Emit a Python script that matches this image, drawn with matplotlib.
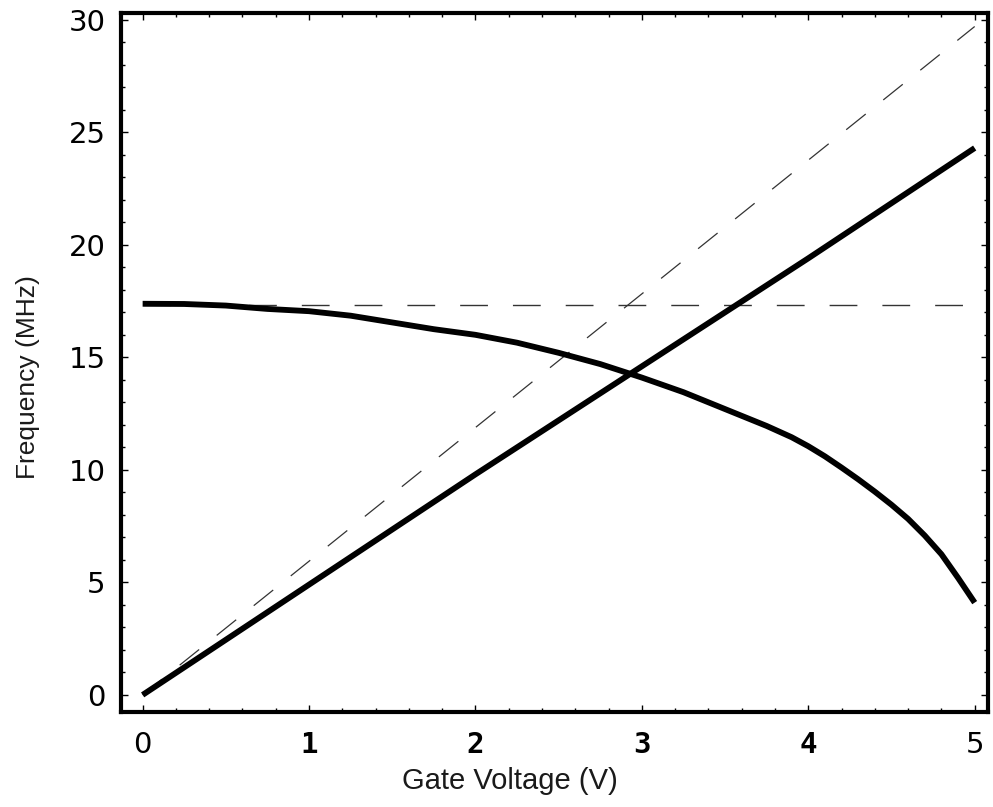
import matplotlib
matplotlib.use("Agg")
import matplotlib.pyplot as plt
from matplotlib.ticker import MultipleLocator

# Data
rise_x = [0, 1, 2, 3, 4, 5]
rise_y = [0.0, 4.9, 9.8, 14.6, 19.4, 24.3]

fall_x = [0, 0.25, 0.5, 0.75, 1, 1.25, 1.5, 1.75, 2, 2.25, 2.5, 2.75, 3, 3.25,
          3.5, 3.75, 3.9, 4, 4.1, 4.2, 4.3, 4.4, 4.5, 4.6, 4.7, 4.8, 4.9, 5]
fall_y = [17.38, 17.37, 17.3, 17.15, 17.05, 16.85, 16.55, 16.25, 16.0, 15.65,
          15.2, 14.7, 14.1, 13.45, 12.7, 11.95, 11.45, 11.05, 10.6, 10.1, 9.58,
          9.03, 8.45, 7.82, 7.08, 6.25, 5.2, 4.1]

diag_x = [0, 5]
diag_y = [0, 29.7]

flat_x = [0, 5]
flat_y = [17.33, 17.33]

xticks = [0, 1, 2, 3, 4, 5]
yticks = [0, 5, 10, 15, 20, 25, 30]

fig = plt.figure(figsize=(9.93, 8.07), dpi=100)
ax = fig.add_axes([121/993, 1-712/807, (988-121)/993, (712-13)/807])

ax.plot(flat_x, flat_y, color="#333333", lw=1.0, dashes=(20, 18))
ax.plot(diag_x, diag_y, color="#333333", lw=0.9, dashes=(20, 18))
ax.plot(rise_x, rise_y, color="black", lw=4.2, solid_capstyle="butt")
ax.plot(fall_x, fall_y, color="black", lw=4.2, solid_capstyle="butt",
        solid_joinstyle="round")

ax.set_xlim(-0.13, 5.08)
ax.set_ylim(-0.76, 30.3)
ax.set_xticks(xticks)
ax.set_yticks(yticks)
ax.xaxis.set_minor_locator(MultipleLocator(0.2))
ax.yaxis.set_minor_locator(MultipleLocator(1))
ax.tick_params(which="both", direction="in", top=True, right=True,
               labeltop=False, labelright=False, width=1)
ax.tick_params(which="major", length=5)
ax.tick_params(which="minor", length=3)
for lab in ax.get_xticklabels():
    txt = lab.get_text()
    if txt in ("0", "5"):
        lab.set_fontfamily("DejaVu Sans")
        lab.set_fontsize(21)
    else:
        lab.set_fontfamily("DejaVu Sans Mono")
        lab.set_fontweight("bold")
        lab.set_fontsize(21)
for lab in ax.get_yticklabels():
    lab.set_fontfamily("DejaVu Sans")
    lab.set_fontsize(21)
ax.tick_params(axis="x", pad=14)
ax.tick_params(axis="y", pad=11)

for sp in ax.spines.values():
    sp.set_linewidth(3.0)

ax.set_xlabel("Gate Voltage (V)", fontsize=21, family="Liberation Sans",
              color="#1a1a1a")
ax.set_ylabel("Frequency (MHz)", fontsize=19, family="Liberation Sans",
              color="#1a1a1a")
ax.xaxis.label.set_va("center")
ax.yaxis.label.set_va("center")
ax.xaxis.set_label_coords((510 - 121) / 867, (712 - 781) / 699)
ax.yaxis.set_label_coords((28 - 121) / 867, (712 - 377) / 699)

fig.savefig("out.png", dpi=100)
